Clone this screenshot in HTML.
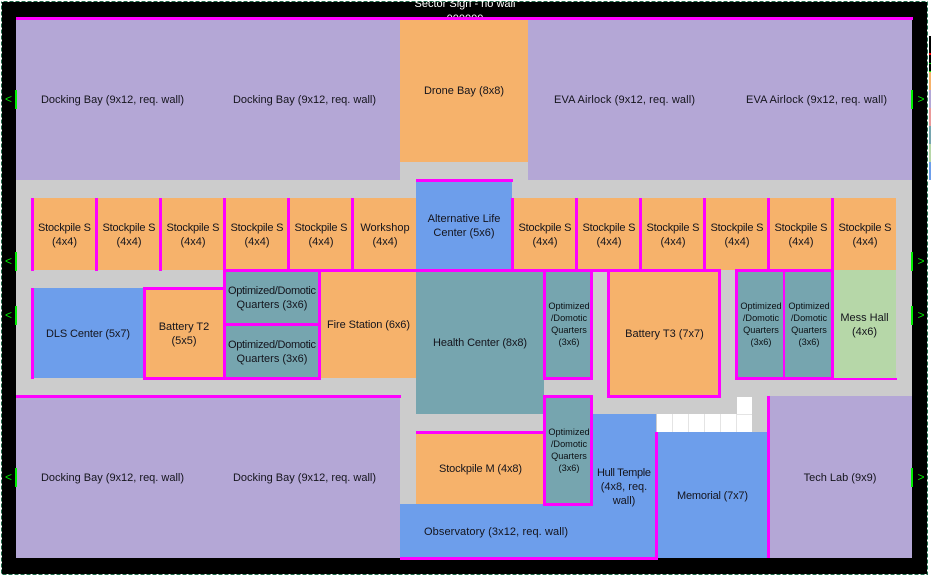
<!DOCTYPE html>
<html><head><meta charset="utf-8"><style>
html,body{margin:0;padding:0;background:#fff;width:931px;height:576px;overflow:hidden}
svg{display:block;position:absolute;left:0;top:0}
text{font-family:"Liberation Sans",Arial,sans-serif;font-size:11px;fill:#14141c;text-anchor:middle}
.s{font-size:9.2px;fill:#0c1014}
.g{fill:#00e800;font-size:12px}
.rects rect{shape-rendering:crispEdges}
</style></head><body>
<svg width="931" height="576" viewBox="0 0 931 576" xmlns="http://www.w3.org/2000/svg">
<g class="rects">
<rect x="0" y="0" width="931" height="576" fill="#fff"/>
<rect x="1" y="1" width="927" height="574" fill="#000"/>
<rect x="929" y="36" width="2" height="36" fill="#000"/>
<rect x="929" y="53" width="2" height="2" fill="#f00"/>
<rect x="929" y="63" width="2" height="1" fill="#0c0"/>
<rect x="929" y="71" width="2" height="1" fill="#0f0"/>
<rect x="929" y="72" width="2" height="18" fill="#f6b26b"/>
<rect x="929" y="90" width="2" height="18" fill="#b4a7d6"/>
<rect x="929" y="108" width="2" height="18" fill="#ea9999"/>
<rect x="929" y="126" width="2" height="18" fill="#76a5af"/>
<rect x="929" y="144" width="2" height="18" fill="#b6d7a8"/>
<rect x="929" y="162" width="2" height="18" fill="#6d9eeb"/>
</g>
<text x="465" y="7" style="fill:#fff">Sector Sign - no wall</text>
<text x="465" y="22" style="fill:#fff">000000</text>
<g class="rects">
<!-- floor -->
<rect x="16" y="162" width="896" height="396" fill="#ccc"/>
<!-- lavender -->
<rect x="16" y="20" width="384" height="160" fill="#b4a7d6"/>
<rect x="528" y="20" width="384" height="160" fill="#b4a7d6"/>
<rect x="16" y="396" width="384" height="162" fill="#b4a7d6"/>
<rect x="768" y="396" width="144" height="162" fill="#b4a7d6"/>
<!-- orange -->
<rect x="400" y="20" width="128" height="142" fill="#f6b26b"/>
<rect x="32" y="198" width="384" height="72" fill="#f6b26b"/>
<rect x="512" y="198" width="384" height="72" fill="#f6b26b"/>
<rect x="144" y="288" width="80" height="90" fill="#f6b26b"/>
<rect x="320" y="270" width="96" height="108" fill="#f6b26b"/>
<rect x="608" y="270" width="112" height="126" fill="#f6b26b"/>
<rect x="416" y="432" width="128" height="72" fill="#f6b26b"/>
<!-- blue -->
<rect x="416" y="180" width="96" height="90" fill="#6d9eeb"/>
<rect x="32" y="288" width="112" height="90" fill="#6d9eeb"/>
<rect x="400" y="504" width="256" height="54" fill="#6d9eeb"/>
<rect x="592" y="414" width="64" height="144" fill="#6d9eeb"/>
<rect x="656" y="432" width="112" height="126" fill="#6d9eeb"/>
<!-- teal -->
<rect x="224" y="270" width="96" height="108" fill="#76a5af"/>
<rect x="416" y="270" width="128" height="144" fill="#76a5af"/>
<rect x="544" y="270" width="48" height="108" fill="#76a5af"/>
<rect x="544" y="396" width="48" height="108" fill="#76a5af"/>
<rect x="736" y="270" width="96" height="108" fill="#76a5af"/>
<!-- green -->
<rect x="832" y="270" width="64" height="108" fill="#b6d7a8"/>
<!-- white cells -->
<rect x="657" y="414" width="95" height="18" fill="#fff"/>
<rect x="737" y="397" width="15" height="17" fill="#fff"/>
<rect x="672" y="414" width="1" height="18" fill="#e4e4e4"/>
<rect x="688" y="414" width="1" height="18" fill="#e4e4e4"/>
<rect x="704" y="414" width="1" height="18" fill="#e4e4e4"/>
<rect x="720" y="414" width="1" height="18" fill="#e4e4e4"/>
<rect x="736" y="414" width="1" height="18" fill="#e4e4e4"/>
<rect x="737" y="414" width="15" height="1" fill="#e4e4e4"/>
</g>
<g class="rects" fill="#f0f">
<!-- horizontal walls -->
<rect x="16" y="17" width="897" height="3"/>
<rect x="416" y="179" width="97" height="3"/>
<rect x="223" y="269" width="497" height="3"/>
<rect x="735" y="269" width="99" height="3"/>
<rect x="143" y="287" width="83" height="3"/>
<rect x="223" y="323" width="98" height="3"/>
<rect x="143" y="377" width="178" height="3"/>
<rect x="543" y="377" width="50" height="3"/>
<rect x="735" y="377" width="99" height="3"/>
<rect x="831" y="378" width="66" height="2"/>
<rect x="607" y="395" width="114" height="3"/>
<rect x="16" y="395" width="385" height="3"/>
<rect x="543" y="395" width="50" height="3"/>
<rect x="416" y="431" width="128" height="3"/>
<rect x="543" y="503" width="50" height="3"/>
<rect x="400" y="557" width="258" height="3"/>
<!-- vertical walls -->
<rect x="31" y="198" width="3" height="73"/>
<rect x="95" y="198" width="3" height="73"/>
<rect x="159" y="198" width="3" height="73"/>
<rect x="223" y="198" width="3" height="182"/>
<rect x="287" y="198" width="3" height="73"/>
<rect x="351" y="198" width="3" height="73"/>
<rect x="511" y="198" width="3" height="73"/>
<rect x="575" y="198" width="3" height="73"/>
<rect x="639" y="198" width="3" height="73"/>
<rect x="703" y="198" width="3" height="73"/>
<rect x="767" y="198" width="3" height="73"/>
<rect x="831" y="198" width="3" height="182"/>
<rect x="31" y="288" width="3" height="91"/>
<rect x="143" y="287" width="3" height="93"/>
<rect x="318" y="269" width="3" height="111"/>
<rect x="543" y="269" width="3" height="110"/>
<rect x="590" y="269" width="3" height="110"/>
<rect x="607" y="269" width="3" height="129"/>
<rect x="718" y="269" width="3" height="129"/>
<rect x="735" y="269" width="3" height="111"/>
<rect x="783" y="269" width="2" height="111"/>
<rect x="543" y="395" width="3" height="110"/>
<rect x="590" y="395" width="3" height="110"/>
<rect x="655" y="432" width="3" height="128"/>
<rect x="767" y="396" width="3" height="162"/>
</g>
<g class="rects" fill="#00f000">
<rect x="15" y="90" width="2" height="19"/><rect x="15" y="252" width="2" height="19"/><rect x="15" y="306" width="2" height="19"/><rect x="15" y="468" width="2" height="19"/>
<rect x="911" y="90" width="2" height="19"/><rect x="911" y="252" width="2" height="19"/><rect x="911" y="306" width="2" height="19"/><rect x="911" y="468" width="2" height="19"/>
</g>
<text class="g" x="8.5" y="103">&lt;</text><text class="g" x="8.5" y="265">&lt;</text><text class="g" x="8.5" y="319">&lt;</text><text class="g" x="8.5" y="481">&lt;</text>
<text class="g" x="921" y="103">&gt;</text><text class="g" x="921" y="265">&gt;</text><text class="g" x="921" y="319">&gt;</text><text class="g" x="921" y="481">&gt;</text>

<text x="112.5" y="103">Docking Bay (9x12, req. wall)</text>
<text x="304.5" y="103">Docking Bay (9x12, req. wall)</text>
<text x="464" y="94">Drone Bay (8x8)</text>
<text x="624.5" y="103" textLength="141">EVA Airlock (9x12, req. wall)</text>
<text x="816.5" y="103" textLength="141">EVA Airlock (9x12, req. wall)</text>

<text x="64.5" y="231" textLength="53">Stockpile S</text><text x="64.5" y="245">(4x4)</text>
<text x="129" y="231" textLength="53">Stockpile S</text><text x="129" y="245">(4x4)</text>
<text x="193" y="231" textLength="53">Stockpile S</text><text x="193" y="245">(4x4)</text>
<text x="257" y="231" textLength="53">Stockpile S</text><text x="257" y="245">(4x4)</text>
<text x="321" y="231" textLength="53">Stockpile S</text><text x="321" y="245">(4x4)</text>
<text x="385" y="231">Workshop</text><text x="385" y="245">(4x4)</text>
<text x="464" y="222">Alternative Life</text><text x="464" y="236">Center (5x6)</text>
<text x="545" y="231" textLength="53">Stockpile S</text><text x="545" y="245">(4x4)</text>
<text x="609" y="231" textLength="53">Stockpile S</text><text x="609" y="245">(4x4)</text>
<text x="673" y="231" textLength="53">Stockpile S</text><text x="673" y="245">(4x4)</text>
<text x="737" y="231" textLength="53">Stockpile S</text><text x="737" y="245">(4x4)</text>
<text x="801" y="231" textLength="53">Stockpile S</text><text x="801" y="245">(4x4)</text>
<text x="865" y="231" textLength="53">Stockpile S</text><text x="865" y="245">(4x4)</text>

<text x="88" y="337" textLength="84">DLS Center (5x7)</text>
<text x="184" y="330">Battery T2</text><text x="184" y="344">(5x5)</text>
<text x="272" y="294" textLength="88">Optimized/Domotic</text><text x="272" y="308">Quarters (3x6)</text>
<text x="272" y="348" textLength="88">Optimized/Domotic</text><text x="272" y="362">Quarters (3x6)</text>
<text x="368.5" y="328" textLength="83">Fire Station (6x6)</text>
<text x="480" y="346" textLength="94">Health Center (8x8)</text>
<text x="569" y="309" class="s">Optimized</text><text x="569" y="321" class="s">/Domotic</text><text x="569" y="333" class="s">Quarters</text><text x="569" y="345" class="s">(3x6)</text>
<text x="664.5" y="337">Battery T3 (7x7)</text>
<text x="761" y="309" class="s">Optimized</text><text x="761" y="321" class="s">/Domotic</text><text x="761" y="333" class="s">Quarters</text><text x="761" y="345" class="s">(3x6)</text>
<text x="809" y="309" class="s">Optimized</text><text x="809" y="321" class="s">/Domotic</text><text x="809" y="333" class="s">Quarters</text><text x="809" y="345" class="s">(3x6)</text>
<text x="864.5" y="321">Mess Hall</text><text x="864.5" y="335">(4x6)</text>

<text x="112.5" y="481">Docking Bay (9x12, req. wall)</text>
<text x="304.5" y="481">Docking Bay (9x12, req. wall)</text>
<text x="480.5" y="472" textLength="83">Stockpile M (4x8)</text>
<text x="569" y="435" class="s">Optimized</text><text x="569" y="447" class="s">/Domotic</text><text x="569" y="459" class="s">Quarters</text><text x="569" y="471" class="s">(3x6)</text>
<text x="624" y="476" textLength="54">Hull Temple</text><text x="624" y="490">(4x8, req.</text><text x="624" y="504">wall)</text>
<text x="496" y="535" textLength="144">Observatory (3x12, req. wall)</text>
<text x="712.5" y="499" textLength="71">Memorial (7x7)</text>
<text x="840" y="481">Tech Lab (9x9)</text>

<!-- dashed selection border -->
<rect x="1.5" y="1.5" width="926" height="573" fill="none" stroke="#1f6b4a" stroke-width="1"/>
<rect x="1.5" y="1.5" width="926" height="573" fill="none" stroke="#fff" stroke-width="1" stroke-dasharray="2 4"/>
</svg>
</body></html>
